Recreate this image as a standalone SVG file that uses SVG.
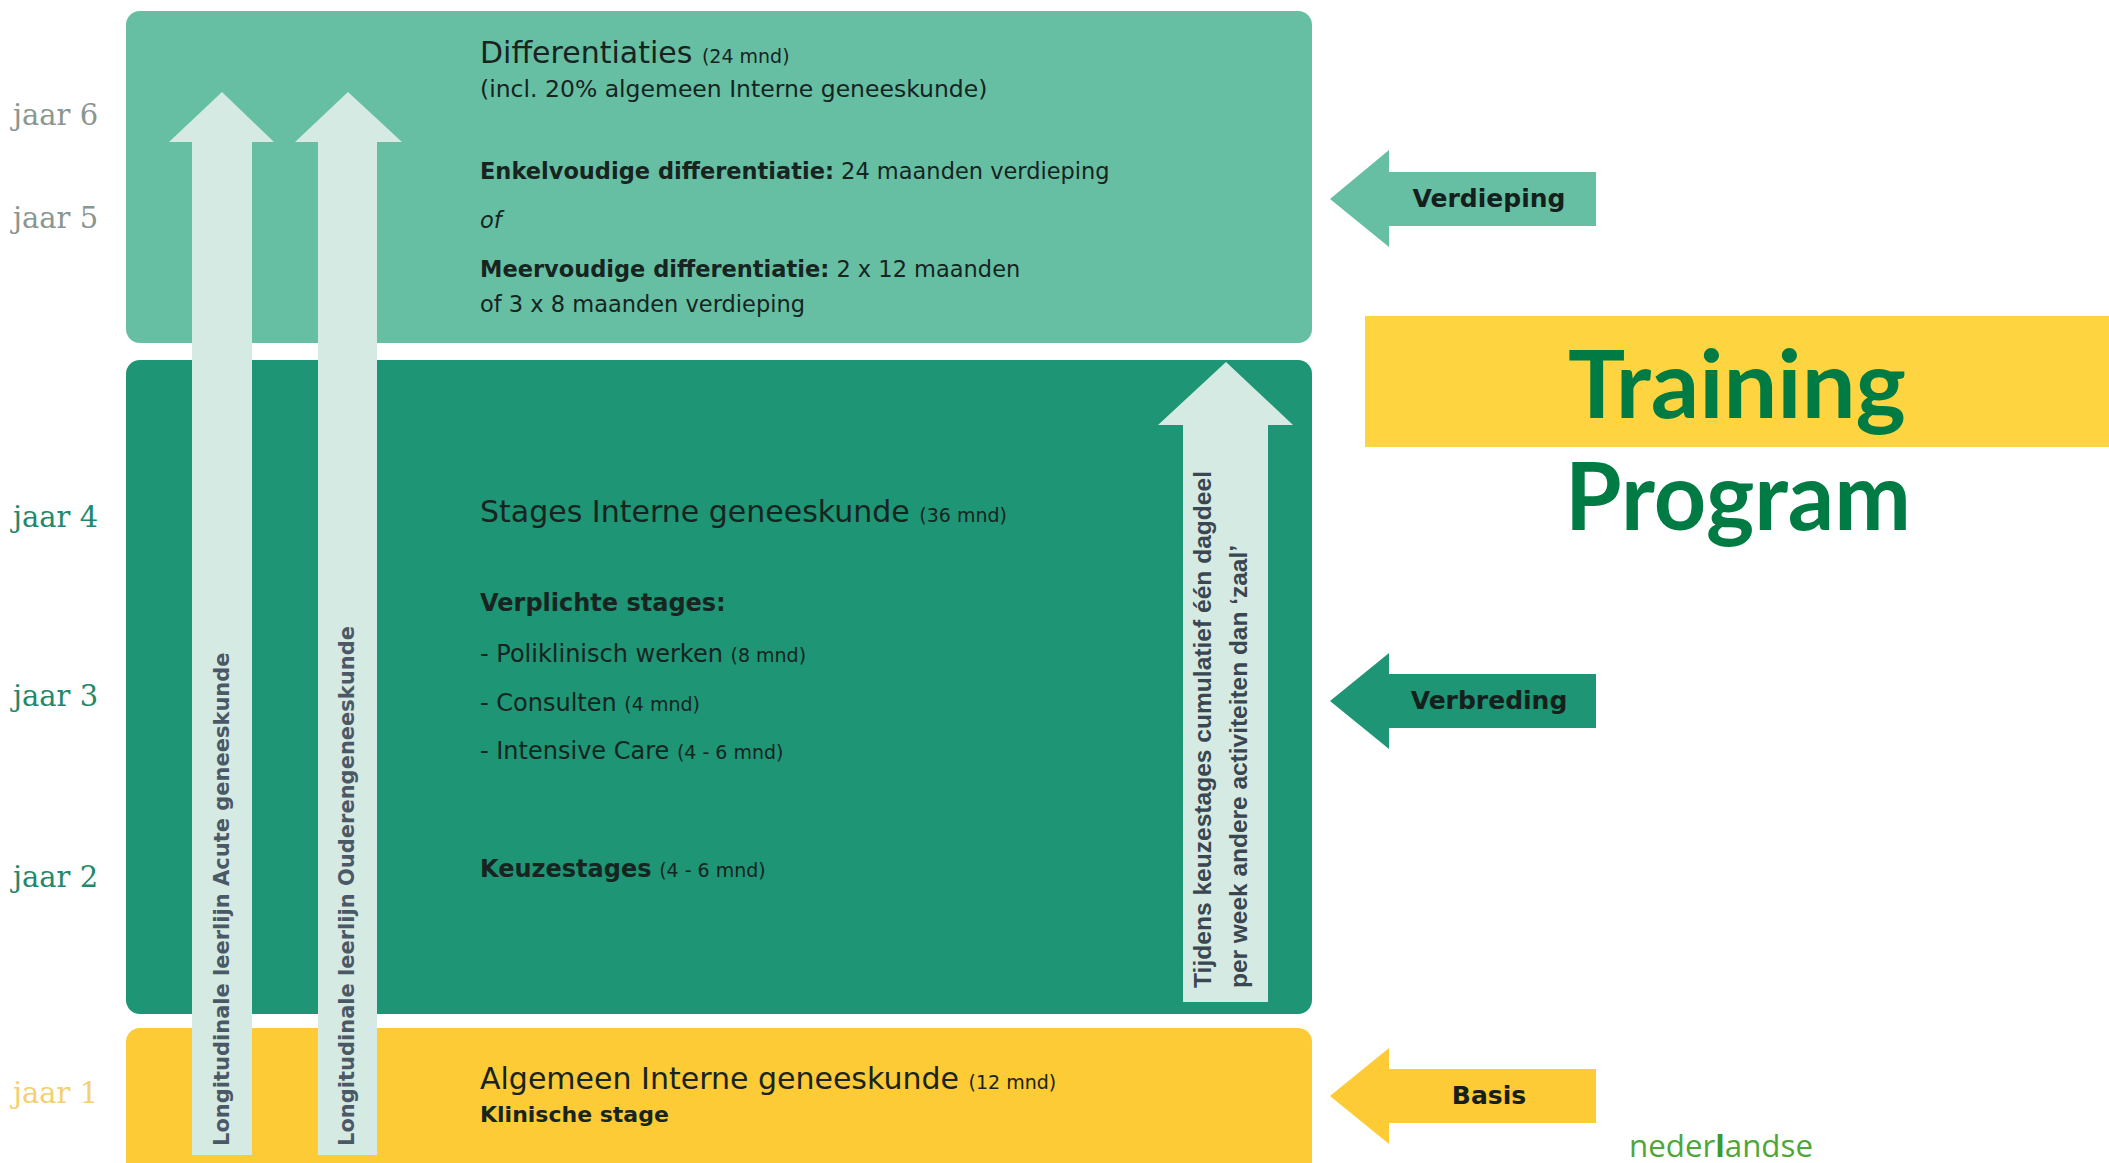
<svg xmlns="http://www.w3.org/2000/svg" width="2109" height="1163" viewBox="0 0 2109 1163">
  <defs>
    <style>
      .txt { font-family: "DejaVu Sans", "Liberation Sans", sans-serif; fill: #17241f; }
      .h { font-size: 30px; }
      .sm { font-size: 19px; }
      .b { font-weight: bold; }
      .yr { font-family: "DejaVu Serif", "Liberation Serif", serif; font-size: 29px; }
      .arrowLight { fill: #D5EAE2; }
      .vtxt { font-family: "DejaVu Sans", "Liberation Sans", sans-serif; font-weight: bold; font-size: 21px; fill: #4B5866; }
      .rtxt { font-family: "Liberation Sans", "DejaVu Sans", sans-serif; font-weight: bold; font-size: 24px; fill: #3A4650; }
      .lbl { font-family: "DejaVu Sans", "Liberation Sans", sans-serif; font-weight: bold; font-size: 25px; fill: #15201C; text-anchor: middle; }
      .title { font-family: Lato, "Open Sans", sans-serif; font-weight: bold; font-size: 94px; fill: #007B43; text-anchor: middle; }
    </style>
  </defs>
  <rect width="2109" height="1163" fill="#FFFFFF"/>

  <!-- year labels -->
  <g id="years">
    <text class="yr" x="13" y="125" fill="#8A9690">jaar 6</text>
    <text class="yr" x="13" y="228" fill="#8A9690">jaar 5</text>
    <text class="yr" x="13" y="527" fill="#23886A">jaar 4</text>
    <text class="yr" x="13" y="706" fill="#23886A">jaar 3</text>
    <text class="yr" x="13" y="887" fill="#23886A">jaar 2</text>
    <text class="yr" x="13" y="1103" fill="#F4D06E">jaar 1</text>
  </g>

  <!-- Differentiaties box -->
  <g id="box-differentiaties">
    <rect x="126" y="11" width="1186" height="332" rx="14" fill="#66BFA3"/>
    <text class="txt h" x="480" y="63">Differentiaties <tspan class="sm">(24 mnd)</tspan></text>
    <text class="txt" x="480" y="97" font-size="23.5">(incl. 20% algemeen Interne geneeskunde)</text>
    <text class="txt" x="480" y="179" font-size="22.5"><tspan class="b">Enkelvoudige differentiatie:</tspan> 24 maanden verdieping</text>
    <text class="txt" x="480" y="228" font-size="22.5" font-style="italic">of</text>
    <text class="txt" x="480" y="277" font-size="22.5"><tspan class="b">Meervoudige differentiatie:</tspan> 2 x 12 maanden</text>
    <text class="txt" x="480" y="312" font-size="22.5">of 3 x 8 maanden verdieping</text>
  </g>

  <!-- Stages box -->
  <g id="box-stages">
    <rect x="126" y="360" width="1186" height="654" rx="14" fill="#1E9574"/>
    <text class="txt h" x="480" y="522">Stages Interne geneeskunde <tspan class="sm">(36 mnd)</tspan></text>
    <text class="txt b" x="480" y="611" font-size="24">Verplichte stages:</text>
    <text class="txt" x="480" y="662" font-size="24">- Poliklinisch werken <tspan class="sm">(8 mnd)</tspan></text>
    <text class="txt" x="480" y="711" font-size="24">- Consulten <tspan class="sm">(4 mnd)</tspan></text>
    <text class="txt" x="480" y="759" font-size="24">- Intensive Care <tspan class="sm">(4 - 6 mnd)</tspan></text>
    <text class="txt" x="480" y="877" font-size="24"><tspan class="b">Keuzestages</tspan> <tspan class="sm">(4 - 6 mnd)</tspan></text>
  </g>

  <!-- Basis box -->
  <g id="box-basis">
    <rect x="126" y="1028" width="1186" height="150" rx="14" fill="#FCCB35"/>
    <text class="txt h" x="480" y="1089">Algemeen Interne geneeskunde <tspan class="sm">(12 mnd)</tspan></text>
    <text class="txt b" x="480" y="1122" font-size="22">Klinische stage</text>
  </g>

  <!-- longitudinal arrows -->
  <g id="arrow-acute">
    <polygon class="arrowLight" points="222,92 274,142 252,142 252,1155 192,1155 192,142 169,142"/>
    <text class="vtxt" transform="translate(229,1146) rotate(-90)">Longitudinale leerlijn Acute geneeskunde</text>
  </g>
  <g id="arrow-ouderen">
    <polygon class="arrowLight" points="348,92 402,142 377,142 377,1155 318,1155 318,142 295,142"/>
    <text class="vtxt" transform="translate(354,1146) rotate(-90)">Longitudinale leerlijn Ouderengeneeskunde</text>
  </g>
  <g id="arrow-keuze">
    <polygon class="arrowLight" points="1226,362 1293,425 1268,425 1268,1002 1183,1002 1183,425 1158,425"/>
    <text class="rtxt" transform="translate(1211,988) rotate(-90)" textLength="517" lengthAdjust="spacingAndGlyphs">Tijdens keuzestages cumulatief één dagdeel</text>
    <text class="rtxt" transform="translate(1247,988) rotate(-90)" textLength="443" lengthAdjust="spacingAndGlyphs">per week andere activiteiten dan ‘zaal’</text>
  </g>

  <!-- phase arrows -->
  <g id="connectors">
    <g id="arrow-verdieping">
      <polygon points="1330,199 1389,150 1389,172 1596,172 1596,226 1389,226 1389,247" fill="#66BFA3"/>
      <text class="lbl" x="1489" y="207">Verdieping</text>
    </g>
    <g id="arrow-verbreding">
      <polygon points="1330,701 1389,653 1389,674 1596,674 1596,728 1389,728 1389,749" fill="#1E9574"/>
      <text class="lbl" x="1489" y="709">Verbreding</text>
    </g>
    <g id="arrow-basis">
      <polygon points="1330,1096 1389,1048 1389,1069 1596,1069 1596,1123 1389,1123 1389,1144" fill="#FCCB35"/>
      <text class="lbl" x="1489" y="1104">Basis</text>
    </g>
  </g>

  <!-- title -->
  <g id="title">
    <rect x="1365" y="316" width="744" height="131" fill="#FED441"/>
    <text class="title" x="1737" y="418" textLength="338" lengthAdjust="spacingAndGlyphs">Training</text>
    <text class="title" x="1738" y="530" textLength="346" lengthAdjust="spacingAndGlyphs">Program</text>
  </g>

  <g id="logo">
    <text x="1629" y="1157" font-family="'Open Sans', 'Noto Sans', sans-serif" font-size="31" fill="#4EA636" textLength="184" lengthAdjust="spacingAndGlyphs">neder<tspan font-weight="bold" fill="#3A9A2C">l</tspan>andse</text>
  </g>
</svg>
